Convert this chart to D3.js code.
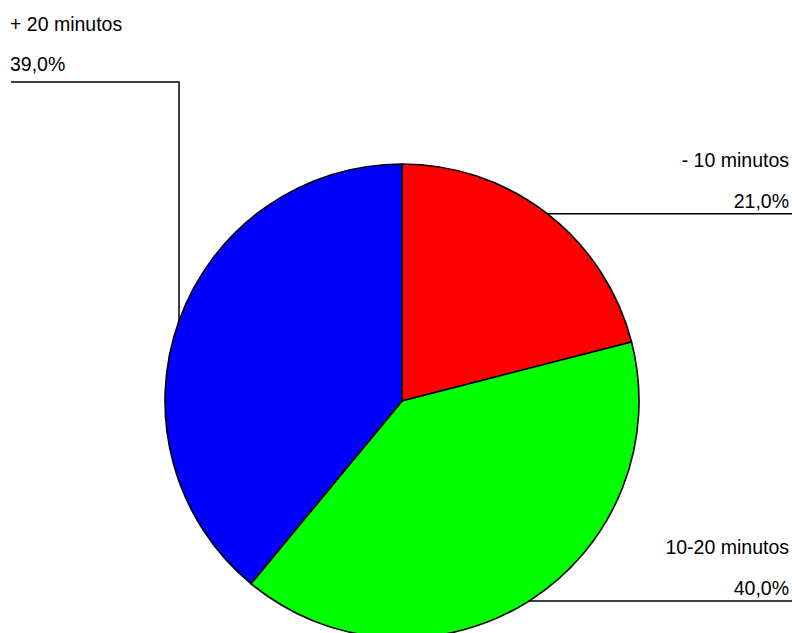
<!DOCTYPE html>
<html>
<head>
<meta charset="utf-8">
<script src="https://cdn.jsdelivr.net/npm/d3@7"></script>
<style>
  body { margin: 0; background: #fff; overflow: hidden; }
  svg { display: block; }
  text { font-family: "Liberation Sans", Arial, sans-serif; font-size: 19.5px; fill: #000; }
</style>
</head>
<body>
<svg id="chart"></svg>
<script>
let categories = ["- 10 minutos", "10-20 minutos", "+ 20 minutos"];
let values = [21.0, 40.0, 39.0];
let colors = ["#ff0000", "#00ff00", "#0000ff"];

let width = 792;
let height = 633;
let cx = 402, cy = 401, radius = 237;

let svg = d3.select("#chart").attr("width", width).attr("height", height);

let pie = d3.pie().sort(null).value(d => d);
let arcs = pie(values);
let arc = d3.arc().innerRadius(0).outerRadius(radius);

let g = svg.append("g").attr("transform", "translate(" + cx + "," + cy + ")");

g.selectAll("path")
  .data(arcs)
  .enter().append("path")
  .attr("d", arc)
  .attr("fill", (d, i) => colors[i])
  .attr("stroke", "#000")
  .attr("stroke-width", 1.6)
  .attr("stroke-linejoin", "round");

let fmt = v => v.toFixed(1).replace(".", ",") + "%";

// leader lines + labels
arcs.forEach((d, i) => {
  let a = (d.startAngle + d.endAngle) / 2;
  let px = cx + radius * Math.sin(a);
  let py = cy - radius * Math.cos(a);
  if (px > cx) {
    // right side: horizontal line to right edge, labels right aligned above
    svg.append("path")
      .attr("d", "M" + px + "," + py + "H792")
      .attr("stroke", "#000").attr("stroke-width", 1.5).attr("fill", "none");
    svg.append("text").attr("x", 789).attr("y", py - 47)
      .attr("text-anchor", "end").text(categories[i]);
    svg.append("text").attr("x", 789).attr("y", py - 6)
      .attr("text-anchor", "end").text(fmt(values[i]));
  } else {
    // left side: up to top then left
    let topY = 82;
    svg.append("path")
      .attr("d", "M" + px + "," + py + "V" + topY + "H11")
      .attr("stroke", "#000").attr("stroke-width", 1.5).attr("fill", "none");
    svg.append("text").attr("x", 10).attr("y", 30.5).text(categories[i]);
    svg.append("text").attr("x", 10).attr("y", 71).text(fmt(values[i]));
  }
});
</script>
</body>
</html>
